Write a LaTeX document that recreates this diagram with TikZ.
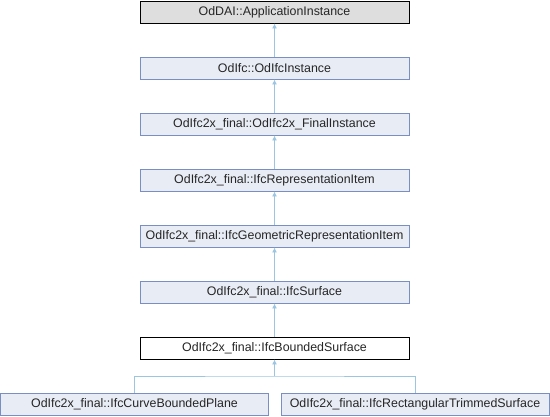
\documentclass[tikz,border=0pt]{standalone}
\usepackage{fontspec}
\setmainfont{Liberation Sans}
\usetikzlibrary{arrows.meta}
\definecolor{boxfill}{HTML}{E8ECF5}
\definecolor{boxline}{HTML}{7A8EC4}
\definecolor{edgecol}{HTML}{9CC6E0}
\definecolor{topfill}{HTML}{DEDEDE}
\begin{document}
\begin{tikzpicture}[x=1pt,y=-1pt,
  cls/.style={draw=boxline,fill=boxfill,line width=0.9pt,inner sep=0pt,minimum height=22pt,font=\fontsize{12.4}{14}\selectfont,text=black!85},
  edge/.style={draw=edgecol,line width=0.9pt,-{Latex[length=5pt,width=5pt]}}]
\useasboundingbox (0,0) rectangle (550,416);
\node[cls,draw=black,fill=topfill,minimum width=269pt] (a) at (274.5,12) {OdDAI::ApplicationInstance};
\node[cls,minimum width=269pt] (b) at (274.5,68) {OdIfc::OdIfcInstance};
\node[cls,minimum width=269pt] (c) at (274.5,124) {OdIfc2x\_final::OdIfc2x\_FinalInstance};
\node[cls,minimum width=269pt] (d) at (274.5,180) {OdIfc2x\_final::IfcRepresentationItem};
\node[cls,minimum width=269pt] (e) at (274.5,236) {OdIfc2x\_final::IfcGeometricRepresentationItem};
\node[cls,minimum width=269pt] (f) at (274.5,292) {OdIfc2x\_final::IfcSurface};
\node[cls,draw=black,fill=white,minimum width=269pt] (g) at (274.5,348) {OdIfc2x\_final::IfcBoundedSurface};
\node[cls,minimum width=268pt] (h) at (134.5,404) {OdIfc2x\_final::IfcCurveBoundedPlane};
\node[cls,minimum width=268pt] (i) at (415,404) {OdIfc2x\_final::IfcRectangularTrimmedSurface};
\draw[edge] (b) -- (a);
\draw[edge] (c) -- (b);
\draw[edge] (d) -- (c);
\draw[edge] (e) -- (d);
\draw[edge] (f) -- (e);
\draw[edge] (g) -- (f);
\coordinate (j) at (274.5,376);
\draw[draw=edgecol,line width=0.9pt] (h.north) |- (j) -| (i.north);
\draw[edge] (j) -- (g);
\end{tikzpicture}
\end{document}
